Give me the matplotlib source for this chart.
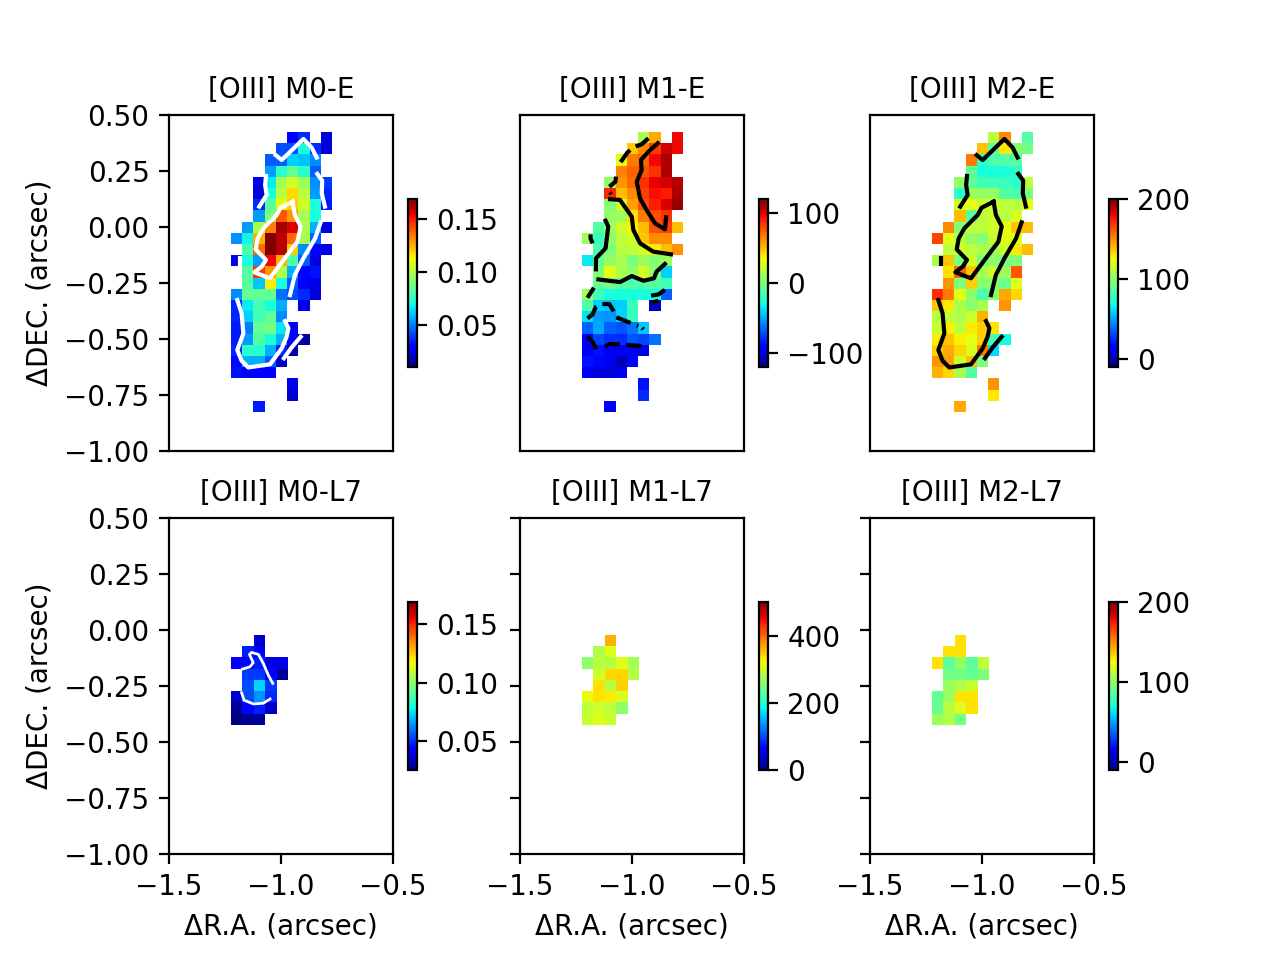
"""
[OIII] moment maps for the E and L7 slits
"""

import numpy as np
import matplotlib
matplotlib.use('Agg')
import matplotlib.pyplot as plt

plt.rcParams['text.hinting'] = 'auto'

n = np.nan

# maps, first row is the top of the panel
m0_e = [
    [n, n, n, n, n, .028, .037, n, .023],
    [n, n, n, n, .042, .042, .071, .037, .023],
    [n, n, n, .045, .045, .063, .061, .052, n],
    [n, n, n, .055, .074, .085, .074, .045, n],
    [n, n, .026, .067, .098, .106, .096, .053, .039],
    [n, n, .023, .071, .102, .118, .102, .055, .036],
    [n, n, .037, .083, .110, .121, .106, .071, .034],
    [n, n, .055, .090, .140, .129, .098, .071, n],
    [n, .055, .098, .134, .164, .156, .098, .058, .025],
    [.053, .069, .125, .169, .160, .137, .098, .045, n],
    [n, .080, .137, .169, .161, .121, .052, .031, .026],
    [.026, .071, .055, .153, .125, .080, .045, .023, n],
    [n, .082, .145, .129, .099, .058, .029, .033, n],
    [n, .083, .061, .115, .071, .045, .028, .025, n],
    [.052, .085, .085, .085, .048, .042, .037, .023, n],
    [.036, .067, .079, .071, .058, n, .026, n, n],
    [.036, .063, .079, .085, .052, n, n, n, n],
    [.034, .050, .085, .088, .066, .028, n, n, n],
    [.034, .055, .082, .071, .058, .028, .015, n, n],
    [.036, .074, .074, .058, .036, .017, n, n, n],
    [.031, .058, .058, .045, .020, n, n, n, n],
    [.033, .029, .028, .029, n, n, n, n, n],
    [n, n, n, n, n, .026, n, n, n],
    [n, n, n, n, n, .022, n, n, n],
    [n, n, .034, n, n, n, n, n, n],
]

m1_e = [
    [n, n, n, n, n, 14, 55, n, 96],
    [n, n, n, n, 46, 62, 84, 103, 96],
    [n, n, n, 29, 67, 72, 96, 110, n],
    [n, n, n, 65, 74, 77, 86, 110, n],
    [n, n, 7, 60, 72, 86, 98, 103, 108],
    [n, n, 89, 50, 62, 82, 94, 91, 110],
    [n, n, 2, 26, 58, 77, 91, 101, 115],
    [n, n, 7, 10, 41, 67, 79, 86, n],
    [n, -12, 10, 24, 36, 50, 77, 82, 50],
    [10, -19, 5, 19, 24, 48, 62, 62, n],
    [n, -14, 0, 17, 19, 24, 38, 50, 60],
    [-34, -7, 7, 14, 0, 10, 2, 10, n],
    [n, 2, 29, 14, 5, 26, 5, -41, n],
    [n, -7, -2, -10, -14, -14, -12, -17, n],
    [10, -17, -29, -29, -29, -29, -29, -67, n],
    [-14, -41, -43, -41, -19, n, -106, n, n],
    [-36, -53, -55, -41, -19, n, n, n, n],
    [-67, -50, -67, -70, -62, -43, n, n, n],
    [-91, -74, -79, -79, -70, -74, -62, n, n],
    [-96, -86, -94, -94, -96, -96, n, n, n],
    [-86, -89, -96, -108, -91, n, n, n, n],
    [-91, -101, -101, -96, n, n, n, n, n],
    [n, n, n, n, n, -86, n, n, n],
    [n, n, n, n, n, -79, n, n, n],
    [n, n, -94, n, n, n, n, n, n],
]

m2_e = [
    [n, n, n, n, n, 110, 150, n, 85],
    [n, n, n, n, 137, 87, 129, 99, 93],
    [n, n, n, 154, 74, 82, 85, 85, n],
    [n, n, n, 87, 70, 70, 70, 76, n],
    [n, n, 101, 87, 80, 80, 78, 74, 112],
    [n, n, 74, 103, 101, 101, 85, 82, 95],
    [n, n, 116, 122, 114, 116, 112, 110, 122],
    [n, n, 139, 87, 112, 116, 110, 118, n],
    [n, 150, 97, 112, 112, 116, 124, 137, 139],
    [166, 120, 110, 101, 97, 114, 120, 122, n],
    [n, 112, 116, 110, 106, 103, 116, 129, 139],
    [106, 137, 95, 116, 95, 99, 95, 95, n],
    [n, 131, 158, 137, 106, 114, 103, 162, n],
    [n, 148, 95, 135, 99, 99, 91, 120, n],
    [171, 154, 122, 99, 82, 97, 143, 133, n],
    [137, 129, 108, 99, 106, n, 148, n, n],
    [110, 112, 108, 116, 141, n, n, n, n],
    [114, 127, 112, 129, 135, 131, n, n, n],
    [127, 137, 127, 122, 135, 80, 68, n, n],
    [135, 143, 133, 118, 154, 61, n, n, n],
    [148, 145, 116, 139, 95, n, n, n, n],
    [141, 133, 106, 85, n, n, n, n, n],
    [n, n, n, n, n, 148, n, n, n],
    [n, n, n, n, n, 129, n, n, n],
    [n, n, 143, n, n, n, n, n, n],
]

m0_l7 = [
    [n, n, .035, n, n],
    [n, .047, .041, n, n],
    [.041, .041, .047, .038, .038],
    [n, .051, .051, .042, .028],
    [n, .054, .073, .051, n],
    [.035, .054, .064, .049, n],
    [.028, .042, .047, .034, n],
    [.026, .028, .028, n, n],
]

m1_l7 = [
    [n, n, 360, n, n],
    [n, 280, 310, n, n],
    [260, 285, 285, 310, 275],
    [n, 300, 340, 340, 285],
    [n, 335, 285, 345, n],
    [315, 335, 330, 305, n],
    [290, 300, 290, 260, n],
    [295, 310, 295, n, n],
]

m2_l7 = [
    [n, n, 131, n, n],
    [n, 131, 131, n, n],
    [131, 87, 101, 87, 112],
    [n, 93, 93, 89, 95],
    [n, 103, 108, 114, n],
    [89, 103, 131, 131, n],
    [89, 110, 120, 131, n],
    [103, 108, 93, n, n],
]

# contour traces, (dRA, dDEC) in arcsec
cont_m0_e = [
    [(-1.024, .321), (-.997, .299), (-.900, .393), (-.863, .354), (-.841, .310)],
    [(-1.067, .228), (-1.071, .188), (-1.064, .143), (-1.097, .091)],
    [(-.838, .237), (-.816, .207), (-.818, .150), (-.804, .091)],
    [(-.948, .113), (-1.002, .086), (-1.019, .054), (-1.079, -.006), (-1.104, -.051),
     (-1.113, -.100), (-1.067, -.147), (-1.086, -.177), (-1.119, -.202), (-1.049, -.229),
     (-.978, -.133), (-.927, -.066), (-.912, .002), (-.938, .054), (-.948, .113)],
    [(-.823, .021), (-.848, -.051), (-.900, -.140), (-.938, -.214), (-.960, -.304)],
    [(-1.183, -.137), (-1.183, -.167)],
    [(-1.195, -.326), (-1.176, -.385), (-1.168, -.475), (-1.195, -.549), (-1.176, -.597),
     (-1.146, -.627), (-1.049, -.613), (-.997, -.542), (-.975, -.490), (-.967, -.452),
     (-.982, -.420)],
    [(-.912, -.490), (-.952, -.537), (-.987, -.586)],
]

cont_m1_e_pos = [
    [(-.885, .374), (-.927, .336), (-.960, .299), (-.957, .254), (-.979, .202),
     (-.964, .128), (-.935, .076), (-.897, .016), (-.853, -.010), (-.848, .043)],
    [(-1.098, .124), (-1.054, .121), (-1.001, .046), (-.994, -.013), (-.964, -.073),
     (-.905, -.110), (-.826, -.122)],
    [(-1.118, .028), (-1.106, .002), (-1.118, -.095), (-1.161, -.140), (-1.161, -.189)],
    [(-1.150, -.234), (-1.054, -.246), (-1.001, -.219), (-.949, -.240), (-.902, -.229),
     (-.890, -.199), (-.853, -.165)],
]

cont_m1_e_neg = [
    [(-.927, .396), (-.957, .369), (-.994, .356), (-1.021, .332), (-1.051, .289)],
    [(-1.071, .225), (-1.074, .202), (-1.101, .180)],
    [(-1.098, .155), (-1.092, .146)],
    [(-1.170, -.271), (-1.199, -.316)],
    [(-1.185, -.033), (-1.185, -.051), (-1.176, -.073)],
    [(-.853, -.281), (-.882, -.301), (-.942, -.311)],
    [(-.882, -.329), (-.912, -.338)],
    [(-1.199, -.408), (-1.176, -.390), (-1.161, -.356), (-1.143, -.344), (-1.101, -.344),
     (-1.083, -.374), (-1.071, -.403), (-.972, -.442)],
    [(-.955, -.451), (-.949, -.457)],
    [(-1.199, -.490), (-1.176, -.512), (-1.155, -.557)],
    [(-1.121, -.534), (-1.098, -.522), (-.957, -.531)],
]

cont_m0_l7 = [
    [(-1.171, -.174), (-1.138, -.164), (-1.124, -.146), (-1.141, -.109), (-1.131, -.100),
     (-1.101, -.109), (-1.079, -.149), (-1.057, -.201), (-1.037, -.238)],
    [(-1.176, -.280), (-1.165, -.313), (-1.124, -.330), (-1.079, -.327), (-1.049, -.308)],
]

ext_e = [-1.225, -.775, -.825, .425]
ext_l7 = [-1.225, -.975, -.425, -.025]

titles = ['[OIII] M0-E', '[OIII] M1-E', '[OIII] M2-E',
          '[OIII] M0-L7', '[OIII] M1-L7', '[OIII] M2-L7']
maps = [m0_e, m1_e, m2_e, m0_l7, m1_l7, m2_l7]
exts = [ext_e, ext_e, ext_e, ext_l7, ext_l7, ext_l7]
vmins = [.0104, -120., -10., .025, 0., -10.]
vmaxs = [.169, 120., 200., .169, 500., 200.]
cticks = [[.05, .10, .15], [-100, 0, 100], [0, 100, 200],
          [.05, .10, .15], [0, 200, 400], [0, 100, 200]]

W = 1280.
H = 960.
lefts = [169, 520, 870]
tops = [115, 518]

fig = plt.figure(figsize=(6.4, 4.8), dpi=200)

for i in range(6):
    row = i // 3
    col = i % 3
    ax = fig.add_axes([lefts[col]/W, 1. - (tops[row] + 336.)/H, 224./W, 336./H])
    im = ax.imshow(np.array(maps[i], dtype=float), cmap='jet', vmin=vmins[i], vmax=vmaxs[i],
                   extent=exts[i], origin='upper', interpolation='nearest', aspect='auto')
    ax.set_xlim(-1.5, -.5)
    ax.set_ylim(-1., .5)
    ax.set_title(titles[i], fontsize=10)

    if row == 0:
        ax.set_xticks([])
    else:
        ax.set_xticks([-1.5, -1., -.5])
        ax.set_xlabel('\u0394R.A. (arcsec)')
    yt = [-1., -.75, -.5, -.25, 0., .25, .5]
    if col == 0:
        ax.set_yticks(yt)
        ax.set_ylabel('\u0394DEC. (arcsec)')
    elif row == 0:
        ax.set_yticks([])
    else:
        ax.set_yticks(yt)
        ax.set_yticklabels([])

    cax = fig.add_axes([(lefts[col] + 238.5)/W, 1. - (tops[row] + 252)/H, 9.5/W, 168./H])
    cb = fig.colorbar(im, cax=cax)
    cb.set_ticks(cticks[i])

    # contours
    if i == 0 or i == 2:
        for c in cont_m0_e:
            ax.plot([p[0] for p in c], [p[1] for p in c], color='w' if i == 0 else 'k', lw=1.5)
    if i == 1:
        for c in cont_m1_e_pos:
            ax.plot([p[0] for p in c], [p[1] for p in c], color='k', lw=1.5)
        for c in cont_m1_e_neg:
            ax.plot([p[0] for p in c], [p[1] for p in c], color='k', lw=1.5, ls='--')
    if i == 3:
        for c in cont_m0_l7:
            ax.plot([p[0] for p in c], [p[1] for p in c], color='w', lw=1.)

plt.savefig('out.png', dpi=200)
